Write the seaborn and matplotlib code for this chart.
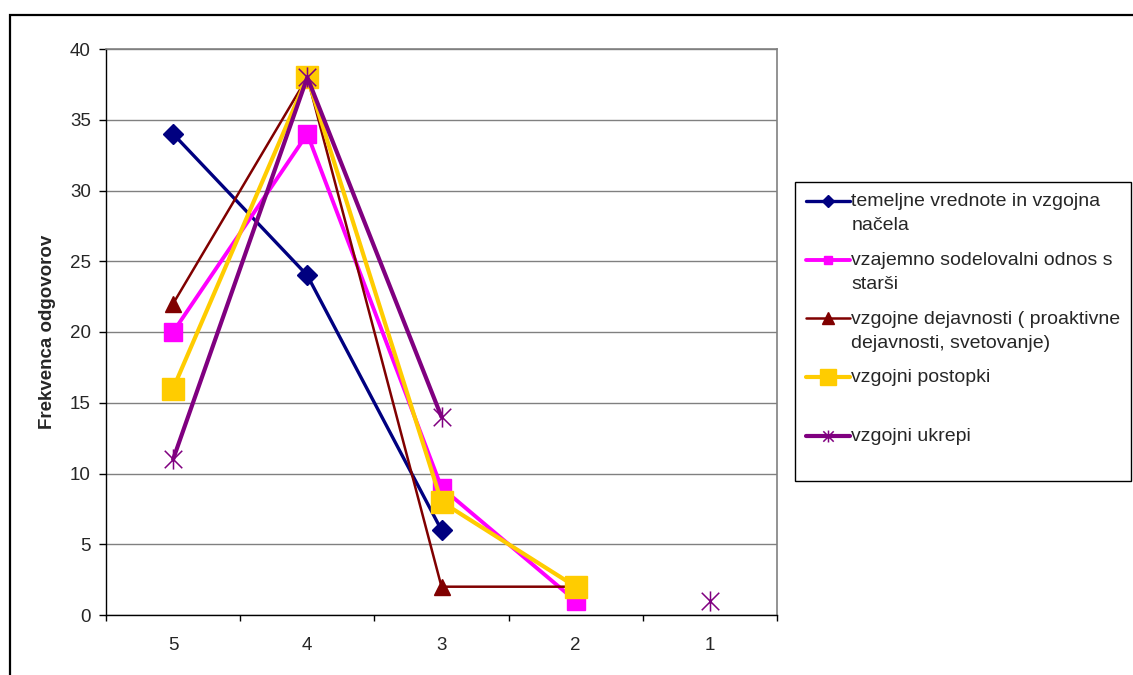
import numpy as np
import pandas as pd
import matplotlib.pyplot as plt
import seaborn as sns
from matplotlib.lines import Line2D
from matplotlib.path import Path
from matplotlib.patches import Rectangle
from matplotlib.legend_handler import HandlerLine2D

nan = np.nan

categories = ['5', '4', '3', '2', '1']
temeljne = [34, 24, 6, nan, nan]
vzajemno = [20, 34, 9, 1, nan]
dejavnosti = [22, 38, 2, 2, nan]
postopki = [16, 38, 8, 2, nan]
ukrepi = [11, 38, 14, nan, 1]

labels = [
    'temeljne vrednote in vzgojna\nnačela',
    'vzajemno sodelovalni odnos s\nstarši',
    'vzgojne dejavnosti ( proaktivne\ndejavnosti, svetovanje)',
    'vzgojni postopki\n ',
    'vzgojni ukrepi\n ',
]
series = [temeljne, vzajemno, dejavnosti, postopki, ukrepi]

# excel-like asterisk: X plus a vertical bar
star = Path([(-1, -1), (1, 1), (-1, 1), (1, -1), (0, -1.15), (0, 1.15)],
            [Path.MOVETO, Path.LINETO, Path.MOVETO, Path.LINETO, Path.MOVETO, Path.LINETO])

styles = [
    dict(color='#000080', lw=2.4, marker='D', ms=10.5, mfc='#000080', mec='#000080', mew=1),
    dict(color='#FF00FF', lw=2.8, marker='s', ms=12.5, mfc='#FF00FF', mec='#FF00FF', mew=1),
    dict(color='#800000', lw=1.8, marker='^', ms=11.5, mfc='#800000', mec='#800000', mew=1),
    dict(color='#FFCC00', lw=3.0, marker='s', ms=16.3, mfc='#FFCC00', mec='#FFCC00', mew=1),
    dict(color='#800080', lw=3.0, marker=star, ms=14.5, mfc='none', mec='#800080', mew=1.1),
]
legend_ms = [6.6, 6.0, 8.7, 12.2, 8.6]


class TopLineHandler(HandlerLine2D):
    # excel puts the legend key next to the first line of a wrapped label
    def create_artists(self, legend, orig_handle, xdescent, ydescent, width, height,
                       fontsize, trans):
        return super().create_artists(legend, orig_handle, xdescent,
                                      ydescent - 1.3 * fontsize, width, height,
                                      fontsize, trans)


# long table, a new segment wherever a value is missing (excel leaves a gap)
rows = []
for name, vals in zip(labels, series):
    seg = 0
    prev_missing = False
    for i, v in enumerate(vals):
        if np.isnan(v):
            prev_missing = True
            continue
        if prev_missing:
            seg += 1
            prev_missing = False
        rows.append({'serie': name, 'pos': i, 'val': v, 'seg': seg})
df = pd.DataFrame(rows)

sns.set_style('ticks')
plt.rcParams['font.family'] = ['Liberation Sans', 'DejaVu Sans']

fig = plt.figure(figsize=(11.33, 6.75), dpi=100)
ax = fig.add_axes([106 / 1133, 1 - 615 / 675, 671 / 1133, 566 / 675])

for name, st in zip(labels, styles):
    sub = df[df['serie'] == name]
    sns.lineplot(data=sub, x='pos', y='val', units='seg', estimator=None, sort=False,
                 ax=ax, legend=False, **st)

ax.set_xlim(-0.5, 4.5)
ax.set_ylim(0, 40)
ax.set_yticks(range(0, 41, 5))
ax.set_xticks(np.arange(-0.5, 5, 1))
ax.set_xticklabels([])
ax.set_xticks(range(5), minor=True)
ax.set_xticklabels(categories, minor=True)
ax.tick_params(axis='x', which='major', length=4.5, width=1, color='black', direction='out')
ax.tick_params(axis='x', which='minor', length=0, pad=16, labelsize=13.5)
ax.tick_params(axis='y', length=5, width=1, color='black', direction='out', pad=6, labelsize=13.5)
ax.yaxis.grid(True, color='#808080', lw=1)
ax.set_axisbelow(True)
ax.set_xlabel('')
ax.set_ylabel('Frekvenca odgovorov', fontsize=13.5, fontweight='bold', labelpad=10)

for side in ['left', 'bottom']:
    ax.spines[side].set_color('black')
    ax.spines[side].set_linewidth(1)
for side in ['top', 'right']:
    ax.spines[side].set_visible(True)
    ax.spines[side].set_color('#808080')
    ax.spines[side].set_linewidth(1.2)

handles = []
for st, ms in zip(styles, legend_ms):
    h = dict(st)
    h['ms'] = ms
    handles.append(Line2D([], [], **h))

leg = fig.legend(handles, labels, loc='upper left',
                 bbox_to_anchor=(795 / 1133, 1 - 182 / 675), borderaxespad=0,
                 fontsize=14, frameon=True, fancybox=False, edgecolor='black',
                 framealpha=1, borderpad=0.55, handlelength=2.3, handletextpad=0.05,
                 labelspacing=0.88, handler_map={Line2D: TopLineHandler()})
leg.get_frame().set_linewidth(1)
for t in leg.get_texts():
    t.set_linespacing(1.6)

# outer chart border
fig.patches.append(Rectangle((10 / 1133, -0.2), 1.2, 1.2 - 15 / 675, transform=fig.transFigure,
                             fill=False, ec='black', lw=1.6))

fig.savefig('out.png', dpi=100)
